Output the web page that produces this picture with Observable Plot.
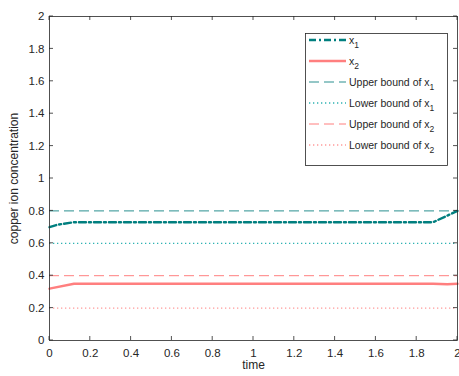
<!DOCTYPE html>
<html><head><meta charset="utf-8">
<script src="https://cdn.jsdelivr.net/npm/d3@7"></script>
<script src="https://cdn.jsdelivr.net/npm/@observablehq/plot@0.6"></script>
<style>
body{margin:0;background:#fff;font-family:"Liberation Sans",Arial,sans-serif;}
#c{position:relative;width:459px;height:376px;}
</style></head><body><div id="c"></div>
<script>
const x1Time = [0, 0.04, 0.12, 1.88, 2];
const x1Value = [0.70, 0.715, 0.73, 0.73, 0.80];
const x2Time = [0, 0.12, 1.88, 1.95, 2];
const x2Value = [0.32, 0.35, 0.35, 0.347, 0.35];
const bounds = [
  {name: "Upper bound of x", sub: "1", value: 0.8, color: "#2a8f8f", dash: "10,5", width: 1},
  {name: "Lower bound of x", sub: "1", value: 0.6, color: "#2fb3b3", dash: "1.3,2.7", width: 1.3},
  {name: "Upper bound of x", sub: "2", value: 0.4, color: "#ff7f7f", dash: "10,5", width: 1},
  {name: "Lower bound of x", sub: "2", value: 0.2, color: "#ff9a9a", dash: "1.3,2.7", width: 1.3}
];
const xTicks = [0, 0.2, 0.4, 0.6, 0.8, 1, 1.2, 1.4, 1.6, 1.8, 2];
const yTicks = [0, 0.2, 0.4, 0.6, 0.8, 1, 1.2, 1.4, 1.6, 1.8, 2];

const x1Data = x1Time.map((t, i) => ({t, v: x1Value[i]}));
const x2Data = x2Time.map((t, i) => ({t, v: x2Value[i]}));
const ink = "#262626";
const fmt = d => String(d);

const plot = Plot.plot({
  width: 459, height: 376,
  marginLeft: 49, marginRight: 2, marginTop: 16, marginBottom: 36,
  style: {fontFamily: "Liberation Sans, Arial, sans-serif", fontSize: "11.5px", color: ink, background: "#fff"},
  x: {type: "linear", domain: [0, 2]},
  y: {type: "linear", domain: [0, 2]},
  marks: [
    ...bounds.map(b => Plot.ruleY([b.value], {stroke: b.color, strokeDasharray: b.dash, strokeWidth: b.width})),
    Plot.line(x1Data, {x: "t", y: "v", stroke: "#007f7f", strokeWidth: 2.4, strokeDasharray: "7,3,2,3"}),
    Plot.line(x2Data, {x: "t", y: "v", stroke: "#ff7f7f", strokeWidth: 2.4}),
    Plot.axisX({ticks: xTicks, tickFormat: fmt, tickSize: 0, tickPadding: 8, label: null, color: ink, fontSize: 11.5}),
    Plot.axisY({ticks: yTicks, tickFormat: fmt, tickSize: 0, tickPadding: 5, label: null, color: ink, fontSize: 11.5}),
    Plot.frame({stroke: ink, strokeWidth: 0.8}),
    Plot.text(["time"], {frameAnchor: "bottom", dy: 28, fill: ink, fontSize: 12}),
    Plot.text(["copper ion concentration"], {frameAnchor: "left", textAnchor: "middle", dx: -35, rotate: -90, fill: ink, fontSize: 12})
  ]
});
document.getElementById("c").appendChild(plot);

// inward ticks (MATLAB style)
const svg = d3.select(plot);
const sx = plot.scale("x"), sy = plot.scale("y");
const g = svg.append("g").attr("stroke", ink).attr("stroke-width", 0.8);
const L = sx.apply(0), R = sx.apply(2), T = sy.apply(2), B = sy.apply(0);
xTicks.forEach(t => {
  const px = sx.apply(t);
  g.append("line").attr("x1", px).attr("x2", px).attr("y1", B).attr("y2", B - 4);
  g.append("line").attr("x1", px).attr("x2", px).attr("y1", T).attr("y2", T + 4);
});
yTicks.forEach(v => {
  const py = sy.apply(v);
  g.append("line").attr("x1", L).attr("x2", L + 4).attr("y1", py).attr("y2", py);
  g.append("line").attr("x1", R).attr("x2", R - 4).attr("y1", py).attr("y2", py);
});

// legend
const items = [
  {name: "x", sub: "1", color: "#007f7f", dash: null, dashL: "7,3,2,3", width: 2.4},
  {name: "x", sub: "2", color: "#ff7f7f", dash: null, width: 2.4},
  ...bounds
];
const lg = svg.append("g").attr("text-anchor", "start");
lg.append("rect").attr("x", 305.5).attr("y", 33.5).attr("width", 142).attr("height", 132)
  .attr("fill", "#fff").attr("stroke", ink).attr("stroke-width", 0.8);
items.forEach((it, i) => {
  const y = 40 + i * 21;
  lg.append("line").attr("x1", 309).attr("x2", 346).attr("y1", y).attr("y2", y)
    .attr("stroke", it.color).attr("stroke-width", it.width)
    .attr("stroke-dasharray", it.dashL || it.dash);
  const tx = lg.append("text").attr("x", 349).attr("y", y + 3.5)
    .attr("fill", ink).attr("font-size", 10.5).attr("text-anchor", "start");
  tx.append("tspan").text(it.name);
  tx.append("tspan").attr("dy", 4).attr("font-size", 8.5).text(it.sub);
});
</script></body></html>
